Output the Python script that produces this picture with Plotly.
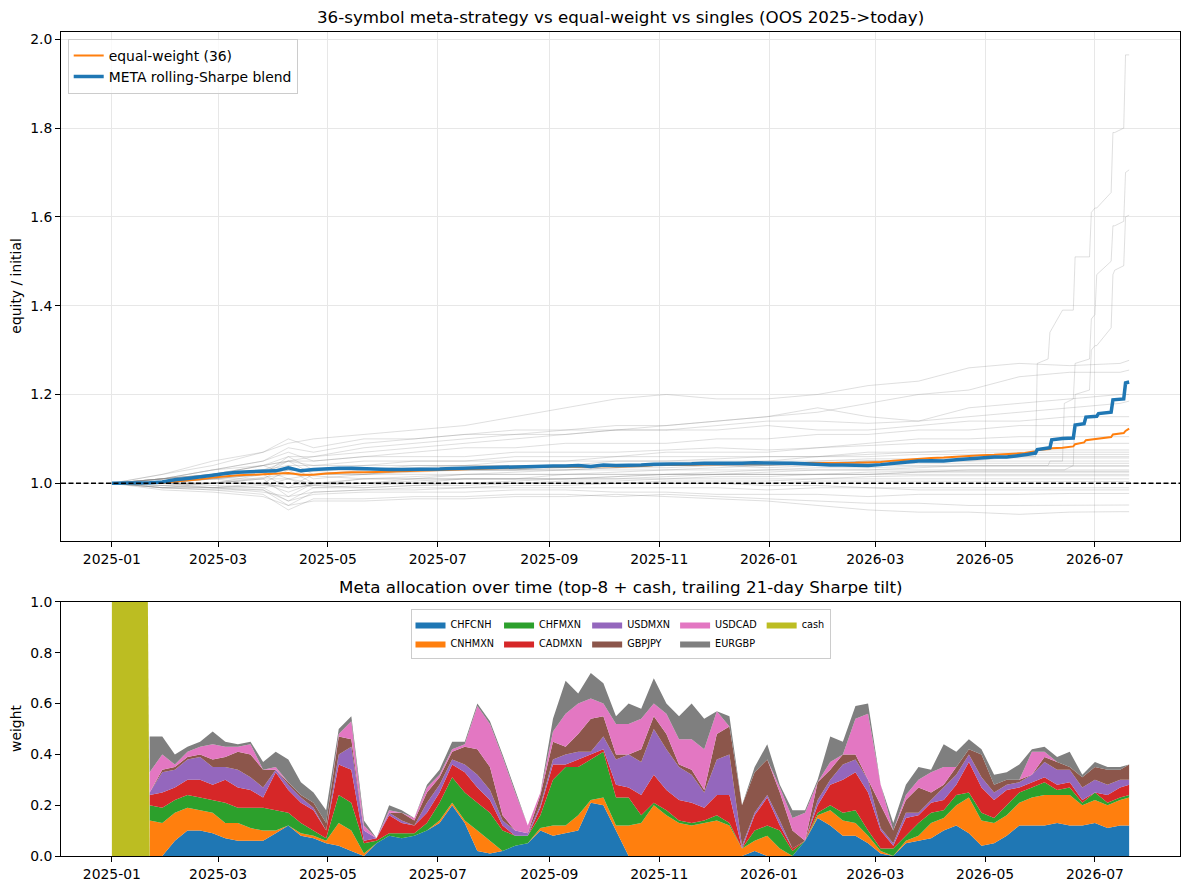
import pandas as pd
import plotly.graph_objects as go

START = pd.Timestamp("2025-01-01")


def to_dates(days):
    return START + pd.to_timedelta(days, unit="D")


# --- top panel: META blend + equal weight (weekly, then around each step at the end)
meta_days = list(range(0, 505, 7)) + [507, 513, 514, 521, 522, 528, 534, 535, 540, 541,
                                      547, 548, 555, 556, 562, 563, 565]
meta_blend = [
    1.000, 1.000, 1.000, 1.001, 1.003, 1.008, 1.011, 1.014, 1.018, 1.022,
    1.025, 1.026, 1.027, 1.028, 1.035, 1.028, 1.031, 1.033, 1.034, 1.034,
    1.033, 1.031, 1.031, 1.031, 1.031, 1.032, 1.032, 1.033, 1.034, 1.035,
    1.036, 1.037, 1.037, 1.038, 1.039, 1.039, 1.039, 1.040, 1.038, 1.041,
    1.040, 1.040, 1.041, 1.043, 1.043, 1.043, 1.044, 1.045, 1.045, 1.044,
    1.045, 1.046, 1.046, 1.046, 1.045, 1.044, 1.042, 1.041, 1.041, 1.041,
    1.040, 1.042, 1.045, 1.048, 1.050, 1.051, 1.050, 1.053, 1.055, 1.057,
    1.059, 1.059, 1.062,
    1.064, 1.068, 1.076, 1.080, 1.098, 1.101, 1.102, 1.131, 1.134, 1.149,
    1.151, 1.157, 1.160, 1.188, 1.190, 1.226, 1.228,
]
equal_weight = [
    1.000, 0.999, 1.000, 1.000, 1.001, 1.004, 1.006, 1.009, 1.013, 1.016,
    1.018, 1.019, 1.020, 1.022, 1.023, 1.019, 1.019, 1.022, 1.024, 1.025,
    1.025, 1.025, 1.026, 1.027, 1.028, 1.029, 1.030, 1.031, 1.032, 1.033,
    1.034, 1.035, 1.035, 1.036, 1.037, 1.037, 1.038, 1.038, 1.037, 1.039,
    1.038, 1.038, 1.039, 1.041, 1.041, 1.041, 1.042, 1.043, 1.043, 1.043,
    1.044, 1.044, 1.045, 1.045, 1.045, 1.045, 1.046, 1.046, 1.046, 1.046,
    1.047, 1.048, 1.051, 1.053, 1.056, 1.057, 1.058, 1.060, 1.062, 1.063,
    1.064, 1.065, 1.067,
    1.068, 1.072, 1.075, 1.077, 1.079, 1.080, 1.083, 1.088, 1.092, 1.097,
    1.100, 1.102, 1.104, 1.110, 1.113, 1.118, 1.123,
]

# single-symbol equity curves (roughly every 4 weeks)
single_days = [0, 28, 56, 84, 98, 112, 140, 168, 196, 224, 252, 280, 308, 336, 364,
               392, 420, 448, 476, 504, 532, 560, 565]
singles = [
    [1.00, 1.02, 1.04, 1.07, 1.09, 1.10, 1.11, 1.12, 1.13, 1.15, 1.17, 1.19, 1.20, 1.19, 1.19, 1.20, 1.22, 1.23, 1.26, 1.27, 1.265, 1.27, 1.277],
    [1.00, 1.02, 1.05, 1.07, 1.10, 1.08, 1.10, 1.10, 1.11, 1.12, 1.12, 1.13, 1.13, 1.14, 1.15, 1.16, 1.18, 1.20, 1.21, 1.24, 1.25, 1.25, 1.255],
    [1.00, 1.01, 1.03, 1.05, 1.08, 1.07, 1.09, 1.10, 1.11, 1.11, 1.12, 1.12, 1.13, 1.14, 1.15, 1.17, 1.15, 1.14, 1.17, 1.18, 1.19, 1.20, 1.20],
    [1.00, 1.01, 1.03, 1.04, 1.06, 1.06, 1.08, 1.09, 1.10, 1.11, 1.11, 1.12, 1.12, 1.13, 1.14, 1.14, 1.135, 1.14, 1.15, 1.16, 1.17, 1.18, 1.185],
    [1.00, 1.01, 1.02, 1.04, 1.05, 1.06, 1.07, 1.08, 1.09, 1.10, 1.11, 1.12, 1.12, 1.12, 1.13, 1.12, 1.12, 1.13, 1.14, 1.14, 1.15, 1.15, 1.15],
    [1.00, 1.01, 1.03, 1.05, 1.07, 1.05, 1.06, 1.07, 1.08, 1.08, 1.09, 1.09, 1.09, 1.10, 1.10, 1.11, 1.11, 1.12, 1.12, 1.13, 1.13, 1.13, 1.13],
    [1.00, 1.01, 1.02, 1.04, 1.05, 1.05, 1.06, 1.06, 1.06, 1.07, 1.07, 1.07, 1.075, 1.08, 1.075, 1.08, 1.09, 1.10, 1.10, 1.105, 1.105, 1.105, 1.105],
    [1.00, 1.00, 1.02, 1.03, 1.05, 1.04, 1.05, 1.05, 1.05, 1.06, 1.06, 1.06, 1.07, 1.07, 1.07, 1.08, 1.085, 1.09, 1.09, 1.09, 1.09, 1.09, 1.09],
    [1.00, 1.01, 1.02, 1.03, 1.04, 1.04, 1.04, 1.05, 1.05, 1.05, 1.05, 1.06, 1.06, 1.06, 1.06, 1.06, 1.07, 1.07, 1.075, 1.075, 1.075, 1.075, 1.075],
    [1.00, 1.00, 1.02, 1.04, 1.02, 1.03, 1.04, 1.04, 1.04, 1.05, 1.05, 1.05, 1.05, 1.055, 1.06, 1.06, 1.065, 1.07, 1.07, 1.07, 1.07, 1.07, 1.07],
    [1.00, 1.00, 1.01, 1.02, 1.06, 1.03, 1.03, 1.04, 1.04, 1.04, 1.04, 1.05, 1.05, 1.05, 1.05, 1.06, 1.06, 1.065, 1.065, 1.065, 1.065, 1.065, 1.065],
    [1.00, 1.01, 1.02, 1.03, 1.01, 1.02, 1.03, 1.03, 1.03, 1.03, 1.04, 1.04, 1.04, 1.04, 1.04, 1.05, 1.05, 1.05, 1.055, 1.06, 1.06, 1.06, 1.06],
    [1.00, 1.01, 1.01, 1.02, 1.03, 1.03, 1.03, 1.035, 1.04, 1.04, 1.04, 1.04, 1.045, 1.045, 1.05, 1.05, 1.055, 1.055, 1.057, 1.057, 1.057, 1.057, 1.057],
    [1.00, 1.00, 1.01, 1.02, 0.99, 1.02, 1.02, 1.03, 1.03, 1.03, 1.035, 1.035, 1.04, 1.04, 1.04, 1.045, 1.05, 1.05, 1.05, 1.05, 1.05, 1.05, 1.05],
    [1.00, 1.00, 1.00, 1.01, 1.04, 1.01, 1.02, 1.02, 1.02, 1.025, 1.03, 1.03, 1.03, 1.035, 1.04, 1.04, 1.04, 1.045, 1.045, 1.045, 1.045, 1.045, 1.045],
    [1.00, 1.00, 1.00, 1.02, 1.05, 1.02, 1.02, 1.03, 1.03, 1.03, 1.03, 1.035, 1.035, 1.04, 1.035, 1.04, 1.04, 1.04, 1.04, 1.04, 1.04, 1.04, 1.04],
    [1.00, 0.99, 1.00, 1.01, 1.01, 1.00, 1.01, 1.01, 1.02, 1.02, 1.02, 1.025, 1.03, 1.03, 1.03, 1.035, 1.035, 1.038, 1.038, 1.038, 1.038, 1.038, 1.038],
    [1.00, 1.00, 1.01, 1.01, 0.97, 1.00, 1.00, 1.01, 1.01, 1.01, 1.02, 1.02, 1.02, 1.02, 1.025, 1.03, 1.03, 1.03, 1.03, 1.03, 1.03, 1.03, 1.03],
    [1.00, 0.99, 0.99, 1.00, 1.03, 1.00, 1.00, 1.00, 1.01, 1.01, 1.01, 1.015, 1.02, 1.02, 1.02, 1.02, 1.025, 1.027, 1.027, 1.027, 1.027, 1.027, 1.027],
    [1.00, 0.995, 1.00, 1.00, 0.98, 1.00, 1.00, 1.005, 1.01, 1.01, 1.01, 1.01, 1.015, 1.02, 1.02, 1.02, 1.02, 1.025, 1.025, 1.025, 1.025, 1.025, 1.025],
    [1.00, 1.00, 1.00, 1.00, 0.99, 0.995, 1.00, 1.00, 1.00, 1.005, 1.01, 1.01, 1.01, 1.015, 1.015, 1.02, 1.02, 1.02, 1.02, 1.02, 1.02, 1.02, 1.02],
    [1.00, 0.995, 0.99, 0.995, 1.01, 0.99, 0.995, 1.00, 1.00, 1.00, 1.005, 1.005, 1.01, 1.01, 1.01, 1.01, 1.015, 1.017, 1.017, 1.017, 1.017, 1.017, 1.017],
    [1.00, 0.99, 0.99, 0.99, 0.96, 0.99, 0.99, 0.995, 1.00, 1.00, 1.00, 1.00, 1.005, 1.005, 1.005, 1.01, 1.01, 1.01, 1.01, 1.01, 1.01, 1.01, 1.01],
    [1.00, 1.00, 0.995, 0.99, 1.00, 0.995, 0.99, 0.995, 0.995, 1.00, 1.00, 1.00, 1.00, 1.00, 1.00, 1.005, 1.005, 1.004, 1.004, 1.004, 1.004, 1.004, 1.004],
    [1.00, 0.99, 0.985, 0.985, 0.95, 0.98, 0.985, 0.985, 0.99, 0.99, 0.99, 0.99, 0.99, 0.99, 0.985, 0.99, 0.99, 0.99, 0.99, 0.99, 0.99, 0.99, 0.99],
    [1.00, 1.00, 0.99, 0.98, 0.97, 0.98, 0.985, 0.99, 0.99, 0.995, 0.995, 1.00, 1.00, 1.00, 0.995, 0.995, 0.99, 0.985, 0.985, 0.985, 0.985, 0.985, 0.985],
    [1.00, 0.995, 0.99, 0.985, 0.96, 0.975, 0.98, 0.98, 0.98, 0.985, 0.985, 0.98, 0.98, 0.975, 0.975, 0.975, 0.97, 0.975, 0.975, 0.975, 0.977, 0.977, 0.977],
    [1.00, 0.99, 0.985, 0.975, 0.94, 0.965, 0.965, 0.97, 0.97, 0.975, 0.975, 0.97, 0.975, 0.97, 0.965, 0.96, 0.955, 0.955, 0.95, 0.95, 0.95, 0.951, 0.951],
    [1.00, 0.985, 0.98, 0.97, 0.95, 0.96, 0.96, 0.965, 0.965, 0.97, 0.97, 0.975, 0.97, 0.965, 0.96, 0.95, 0.94, 0.935, 0.935, 0.93, 0.935, 0.936, 0.936],
]

# the three singles that jump in steps near the end
steep_days = [0, 56, 98, 140, 196, 252, 308, 364, 420, 476, 504, 513, 514, 520, 521,
              528, 529, 534, 535, 543, 544, 546, 547, 555, 556, 557, 562, 563, 565]
steep_singles = [
    [1.00, 1.02, 1.03, 1.02, 1.03, 1.03, 1.04, 1.04, 1.05, 1.05, 1.06, 1.06, 1.27, 1.28, 1.34,
     1.39, 1.39, 1.39, 1.51, 1.51, 1.61, 1.62, 1.62, 1.655, 1.79, 1.79, 1.80, 1.965, 1.965],
    [1.00, 1.01, 0.99, 1.01, 1.02, 1.02, 1.02, 1.03, 1.03, 1.04, 1.04, 1.04, 1.04, 1.04, 1.05,
     1.05, 1.18, 1.19, 1.27, 1.28, 1.37, 1.38, 1.47, 1.50, 1.58, 1.58, 1.59, 1.70, 1.706],
    [1.00, 1.00, 1.02, 1.01, 1.01, 1.01, 1.02, 1.02, 1.02, 1.03, 1.03, 1.03, 1.03, 1.03, 1.03,
     1.03, 1.03, 1.04, 1.20, 1.21, 1.30, 1.31, 1.31, 1.35, 1.47, 1.48, 1.49, 1.60, 1.604],
]

# --- bottom panel: meta allocation weights (weekly)
alloc_days = list(range(21, 561, 7)) + [565]
symbols = ["CHFCNH", "CNHMXN", "CHFMXN", "CADMXN", "USDMXN", "GBPJPY", "USDCAD", "EURGBP"]
w_chfcnh = [
    0, 0, .06, .10, .10, .09, .07, .06, .06, .06,
    .09, .12, .08, .07, .05, .04, .02, 0, .05, .08,
    .07, .08, .10, .13, .20, .13, .02, .01, .02, .04,
    .05, .10, .08, .09, .10, .21, .20, .10, 0, 0,
    0, 0, 0, 0, 0, 0, 0, 0, .02, 0,
    0, 0, .06, .15, .12, .08, .08, .05, .01, 0,
    .05, .06, .07, .10, .12, .09, .04, .05, .08, .12,
    .12, .12, .13, .12, .12, .13, .11, .12, .12,
]
w_cnhmxn = [
    .14, .13, .11, .09, .08, .08, .06, .07, .05, .04,
    .01, 0, .01, .01, .01, .09, .08, .01, 0, 0,
    0, 0, 0, .01, .01, .01, .08, .05, 0, 0,
    0, .01, .04, .03, .06, .01, .03, .02, .12, .13,
    .20, .16, .13, .12, .13, .14, .12, .03, .04, .08,
    .03, 0, 0, .01, .06, .06, .05, .03, .01, 0,
    .01, .02, .06, .05, .08, .14, .10, .08, .08, .09,
    .11, .12, .11, .12, .08, .09, .09, .10, .11,
]
w_chfmxn = [
    .06, .06, .05, .05, .05, .05, .08, .06, .08, .09,
    .08, .05, .04, .02, .01, .11, .11, .04, .01, .01,
    .02, .01, .03, .07, .10, .11, .11, .11, .08, .04,
    .03, .05, .18, .23, .19, .16, .18, .11, .11, .03,
    .01, .02, .01, .01, .01, .02, .01, 0, .04, .04,
    .07, .02, 0, .01, .02, .03, .05, .02, .01, .03,
    .02, .05, .04, .03, .04, .02, .03, .02, .04, .04,
    .04, .05, .02, .03, .01, .03, .01, .01, .01,
]
w_cadmxn = [
    .04, .06, .05, .06, .07, .06, .09, .08, .07, .04,
    .15, .09, .08, .08, .03, .12, .13, .01, .01, .07,
    .04, .03, .04, .04, .05, .08, .06, .05, .02, 0,
    0, .03, .06, .01, .03, .02, .01, .05, .04, .08,
    .11, .08, .08, .08, .05, .08, .11, 0, .06, .11,
    .02, .01, 0, .03, .08, .13, .15, .15, .07, .01,
    .07, .03, .04, .04, .04, .12, .10, .07, .06, .02,
    .02, .02, .02, .02, .01, 0, .03, .04, .04,
]
w_usdmxn = [
    .01, .08, .07, .08, .09, .07, .05, .07, .05, .04,
    .01, .02, .02, .01, 0, .04, .09, .04, 0, .01,
    .01, 0, .04, .03, .02, .03, .05, .04, .02, .02,
    .01, .01, .02, .04, .03, .01, .05, .10, .13, .13,
    .18, .16, .13, .11, .06, .14, .16, .01, .01, .01,
    .02, 0, 0, .02, .02, .06, .05, .05, .01, .01,
    .02, .01, .01, .05, .04, .03, .04, .03, .02, .02,
    .03, .06, .06, .05, .05, .05, .04, .03, .02,
]
w_gbpjpy = [
    0, .01, .01, .01, .01, .03, .04, .07, .09, .07,
    0, .01, .01, .02, .03, .07, .03, 0, 0, 0,
    .03, .02, .04, .03, .03, .07, .10, .09, .02, 0,
    0, .04, .07, .03, .07, .13, .08, .02, 0, .05,
    .05, .06, .01, .02, .01, .10, .11, .16, .16, .14,
    .11, .07, 0, .07, .04, .04, .02, 0, .09, .05,
    .05, .10, .03, .01, .03, .02, .09, .03, .02, .01,
    0, .02, .03, .01, .04, .05, .06, .04, .06,
]
w_usdcad = [
    .08, .06, .01, .02, .03, .06, .04, .02, .04, 0,
    .01, 0, 0, 0, 0, .01, .07, .02, 0, .01,
    0, .01, .02, .01, .01, .01, .17, .17, .23, .15,
    .03, .01, .04, .13, .12, .08, .05, .12, .12, .12,
    .05, .08, .10, .12, .16, .09, 0, 0, 0, 0,
    .02, .05, .11, 0, .03, 0, .14, .26, .08, 0,
    .02, .03, .08, .07, 0, 0, 0, 0, 0, 0,
    .09, .02, 0, 0, 0, 0, 0, 0, 0,
]
w_eurgbp = [
    .14, .07, .04, .02, .02, .05, .02, .01, .01, .03,
    .06, .09, .05, .04, .05, .02, .02, .02, 0, .02,
    .01, 0, .01, .02, .03, .01, .01, .01, .01, .01,
    0, 0, .05, .13, .04, .10, .08, .03, .08, .04,
    .10, .04, .09, .14, .12, 0, .04, 0, .02, .06,
    .01, .03, .01, .01, .10, .05, .05, .04, 0, .03,
    .04, .05, .01, .09, .06, .04, .02, .04, .03, .06,
    .01, .02, .02, .06, .01, .02, .01, .01, 0,
]
cash_days = [0, 20, 21]
w_cash = [1.0, 1.0, 0.0]

weights = [w_chfcnh, w_cnhmxn, w_chfmxn, w_cadmxn, w_usdmxn, w_gbpjpy, w_usdcad, w_eurgbp]
colors = ["#1f77b4", "#ff7f0e", "#2ca02c", "#d62728", "#9467bd", "#8c564b", "#e377c2", "#7f7f7f"]
groups = ["g1", "g1", "g2", "g2", "g3", "g3", "g4", "g4"]

FONT = "DejaVu Sans"
GREY = "rgba(128,128,128,0.32)"
fig = go.Figure()

# grey single-symbol curves
for vals in singles:
    fig.add_trace(go.Scatter(x=to_dates(single_days), y=vals, mode="lines",
                             line=dict(color=GREY, width=0.8),
                             showlegend=False, hoverinfo="skip", xaxis="x", yaxis="y"))
for vals in steep_singles:
    fig.add_trace(go.Scatter(x=to_dates(steep_days), y=vals, mode="lines",
                             line=dict(color=GREY, width=0.8),
                             showlegend=False, hoverinfo="skip", xaxis="x", yaxis="y"))

fig.add_trace(go.Scatter(x=to_dates(meta_days), y=equal_weight, mode="lines",
                         name="equal-weight (36)", line=dict(color="#ff7f0e", width=2),
                         xaxis="x", yaxis="y", legend="legend"))
fig.add_trace(go.Scatter(x=to_dates(meta_days), y=meta_blend, mode="lines",
                         name="META rolling-Sharpe blend", line=dict(color="#1f77b4", width=3.5),
                         xaxis="x", yaxis="y", legend="legend"))

# stacked allocation
for sym, w, c, g in zip(symbols, weights, colors, groups):
    fig.add_trace(go.Scatter(x=to_dates(alloc_days), y=w, mode="lines", name=sym,
                             stackgroup="alloc", line=dict(width=0, color=c), fillcolor=c,
                             legendgroup=g, legend="legend2", xaxis="x2", yaxis="y2"))
fig.add_trace(go.Scatter(x=to_dates(cash_days), y=w_cash, mode="lines", name="cash",
                         fill="tozeroy", line=dict(width=0, color="#bcbd22"), fillcolor="#bcbd22",
                         legendgroup="g5", legend="legend2", xaxis="x2", yaxis="y2"))

# 1.0 reference line
fig.add_shape(type="line", xref="x domain", x0=0, x1=1, yref="y", y0=1.0, y1=1.0,
              line=dict(color="black", width=1.3, dash="5px,2.5px"))

x_range = ["2024-12-03 18:00", "2026-08-17 06:00"]
axis_common = dict(showline=True, mirror=True, linecolor="black", linewidth=1,
                   ticks="outside", ticklen=5, tickcolor="black", zeroline=False,
                   automargin=False, tickfont=dict(family=FONT, size=13.9, color="black"))
xcommon = dict(axis_common, type="date", range=x_range, tick0="2025-01-01",
               dtick="M2", tickformat="%Y-%m")

fig.update_layout(
    width=1189, height=890,
    margin=dict(l=61, r=9, t=32, b=34),
    plot_bgcolor="white", paper_bgcolor="white",
    font=dict(family=FONT, size=13.9, color="black"),
    xaxis=dict(xcommon, domain=[0, 1], anchor="y", showgrid=True,
               gridcolor="#e7e7e7", gridwidth=1),
    yaxis=dict(axis_common, domain=[0.3823, 1], anchor="x", range=[0.870, 2.0165],
               tick0=1.0, dtick=0.2, tickformat=".1f", showgrid=True,
               gridcolor="#e7e7e7", gridwidth=1),
    xaxis2=dict(xcommon, domain=[0, 1], anchor="y2", showgrid=False),
    yaxis2=dict(axis_common, domain=[0, 0.3083], anchor="x2", range=[0, 1],
                dtick=0.2, tickformat=".1f", showgrid=False),
    legend=dict(x=0.006, y=0.9915, xanchor="left", yanchor="top",
                bgcolor="rgba(255,255,255,0.8)", bordercolor="#cccccc", borderwidth=1,
                font=dict(family=FONT, size=13.9)),
    legend2=dict(orientation="h", traceorder="grouped", x=0.5, y=0.2998,
                 xanchor="center", yanchor="top", bgcolor="rgba(255,255,255,0.8)",
                 bordercolor="#cccccc", borderwidth=1, tracegroupgap=2,
                 font=dict(family=FONT, size=9.7)),
    annotations=[
        dict(text="36-symbol meta-strategy vs equal-weight vs singles (OOS 2025->today)",
             xref="paper", yref="paper", x=0.5, y=1, xanchor="center", yanchor="bottom",
             yshift=3, showarrow=False, font=dict(family=FONT, size=16.7)),
        dict(text="Meta allocation over time (top-8 + cash, trailing 21-day Sharpe tilt)",
             xref="paper", yref="paper", x=0.5, y=0.3083, xanchor="center", yanchor="bottom",
             yshift=3, showarrow=False, font=dict(family=FONT, size=16.7)),
        dict(text="equity / initial", xref="paper", yref="paper", x=-0.0402, y=0.691,
             xanchor="center", yanchor="middle", textangle=-90, showarrow=False,
             font=dict(family=FONT, size=13.9)),
        dict(text="weight", xref="paper", yref="paper", x=-0.0402, y=0.1542,
             xanchor="center", yanchor="middle", textangle=-90, showarrow=False,
             font=dict(family=FONT, size=13.9)),
    ],
)

# drop the browser's default 8px body margin so the figure sits at the page origin
fig.write_html("out.html", config={"displayModeBar": False},
               post_script="document.body.style.margin='0';")
